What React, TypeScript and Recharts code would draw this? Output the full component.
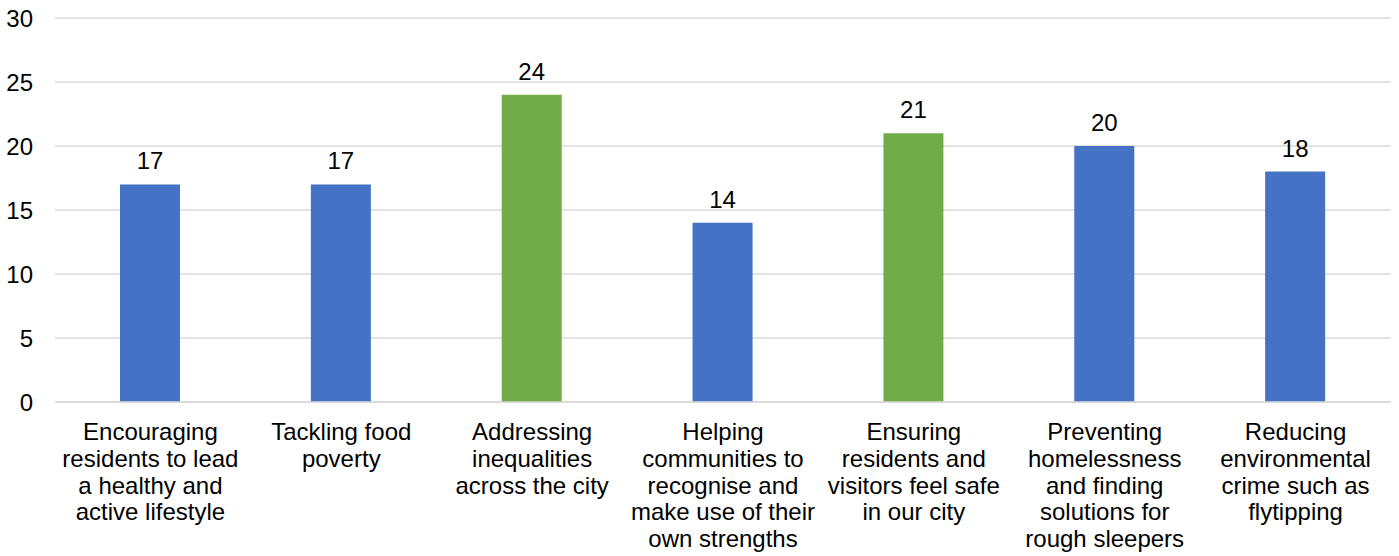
import { BarChart, Bar, XAxis, YAxis, CartesianGrid, Cell, LabelList } from 'recharts';

const categories = [
  'Encouraging residents to lead a healthy and active lifestyle',
  'Tackling food poverty',
  'Addressing inequalities across the city',
  'Helping communities to recognise and make use of their own strengths',
  'Ensuring residents and visitors feel safe in our city',
  'Preventing homelessness and finding solutions for rough sleepers',
  'Reducing environmental crime such as flytipping',
];

// how the axis labels break, as in the original
const tickLines: string[][] = [
  ['Encouraging', 'residents to lead', 'a healthy and', 'active lifestyle'],
  ['Tackling food', 'poverty'],
  ['Addressing', 'inequalities', 'across the city'],
  ['Helping', 'communities to', 'recognise and', 'make use of their', 'own strengths'],
  ['Ensuring', 'residents and', 'visitors feel safe', 'in our city'],
  ['Preventing', 'homelessness', 'and finding', 'solutions for', 'rough sleepers'],
  ['Reducing', 'environmental', 'crime such as', 'flytipping'],
];

const values = [17, 17, 24, 14, 21, 20, 18];
const highlighted = [false, false, true, false, true, false, false];
const yTicks = [0, 5, 10, 15, 20, 25, 30];

const BLUE = '#4472C4';
const GREEN = '#70AD47';

const chartData = categories.map((name, i) => ({ name, value: values[i], idx: i }));

const WrappedTick = ({ x, y, payload }: any) => {
  const lines = tickLines[payload.index] || [payload.value];
  return (
    <text x={x} y={y} textAnchor="middle" fill="#000" fontSize={24}>
      {lines.map((line, i) => (
        <tspan key={i} x={x} dy={i === 0 ? 30 : 26.8}>
          {line}
        </tspan>
      ))}
    </text>
  );
};

export default function App() {
  return (
    <div
      style={{
        position: 'absolute',
        top: 0,
        left: 0,
        fontFamily: '"Liberation Sans", Arial, sans-serif',
      }}
    >
      <BarChart
        width={1399}
        height={556}
        data={chartData}
        margin={{ top: 18, right: 8, bottom: 4, left: 0 }}
      >
        <CartesianGrid vertical={false} stroke="#d9d9d9" strokeWidth={1.3} />
        <XAxis
          dataKey="name"
          interval={0}
          height={150}
          tickLine={false}
          axisLine={{ stroke: '#d9d9d9', strokeWidth: 1.3 }}
          tick={<WrappedTick />}
        />
        <YAxis
          domain={[0, 30]}
          ticks={yTicks}
          width={55}
          axisLine={false}
          tickLine={false}
          tickMargin={16}
          tick={{ fill: '#000', fontSize: 24 }}
        />
        <Bar dataKey="value" barSize={60} isAnimationActive={false}>
          {chartData.map((d) => (
            <Cell key={d.idx} fill={highlighted[d.idx] ? GREEN : BLUE} />
          ))}
          <LabelList dataKey="value" position="top" offset={15} fill="#000" fontSize={24} />
        </Bar>
      </BarChart>
    </div>
  );
}
